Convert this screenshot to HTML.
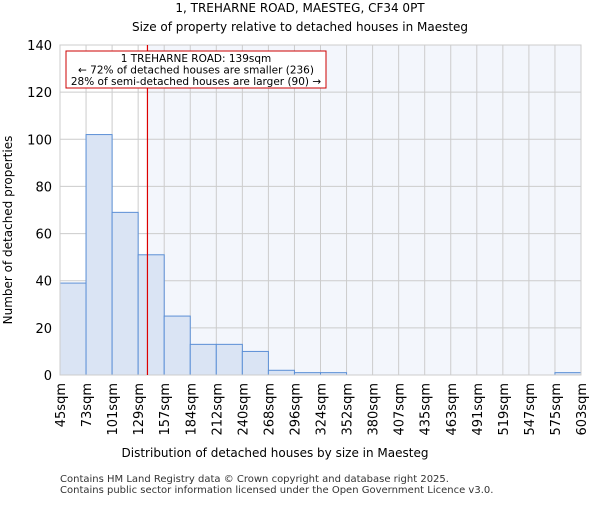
<!DOCTYPE html>
<html><head><meta charset="utf-8"><style>
body{margin:0;background:#fff;font-family:"Liberation Sans","DejaVu Sans",sans-serif}
svg text{font-family:"DejaVu Sans","Liberation Sans",sans-serif}
</style></head><body>
<svg id="c" width="600" height="500" xmlns="http://www.w3.org/2000/svg">
<text x="300" y="12" text-anchor="middle" font-size="12">1, TREHARNE ROAD, MAESTEG, CF34 0PT</text>
<text x="300" y="31" text-anchor="middle" font-size="12">Size of property relative to detached houses in Maesteg</text>
<g id="plot"></g>
<text x="275" y="457" text-anchor="middle" font-size="12">Distribution of detached houses by size in Maesteg</text>
<text transform="translate(12,230) rotate(-90)" text-anchor="middle" font-size="12">Number of detached properties</text>
<text x="60" y="482" font-size="10" fill="#333">Contains HM Land Registry data © Crown copyright and database right 2025.</text>
<text x="60" y="493" font-size="10" fill="#333">Contains public sector information licensed under the Open Government Licence v3.0.</text>
</svg>
<script>
const labels=["45sqm","73sqm","101sqm","129sqm","157sqm","184sqm","212sqm","240sqm","268sqm","296sqm","324sqm","352sqm","380sqm","407sqm","435sqm","463sqm","491sqm","519sqm","547sqm","575sqm","603sqm"];
const edges=[45,73,101,129,157,184,212,240,268,296,324,352,380,407,435,463,491,519,547,575,603];
const counts=[39,102,69,51,25,13,13,10,2,1,1,0,0,0,0,0,0,0,0,1];
const yTicks=[0,20,40,60,80,100,120,140];
const marker=139;
const NS="http://www.w3.org/2000/svg";
const L=60,R=581,T=45,B=375,YMAX=140;
const xi=i=>L+(R-L)*i/(edges.length-1);
const xv=v=>{for(let i=0;i<edges.length-1;i++){if(v<=edges[i+1])return xi(i)+(v-edges[i])/(edges[i+1]-edges[i])*(xi(i+1)-xi(i));}return R;};
const y=v=>B-(B-T)*v/YMAX;
const g=document.getElementById('plot');
function mk(t,a){const e=document.createElementNS(NS,t);for(const k in a)e.setAttribute(k,a[k]);g.appendChild(e);return e;}
let e;
const mx=xv(marker);
e=mk('rect',{x:mx,y:T,width:R-mx,height:B-T,fill:'#f3f6fc'});


yTicks.forEach(t=>{e=mk('line',{x1:L,x2:R,y1:y(t),y2:y(t),stroke:'#cccccc'});


e=mk('text',{x:L-8,y:y(t)+5,'text-anchor':'end','font-size':'13'});e.textContent=t;

});
edges.forEach((v,i)=>{e=mk('line',{x1:xi(i),x2:xi(i),y1:T,y2:B,stroke:'#cccccc'});


e=mk('text',{transform:`translate(${xi(i)+5},${B+8}) rotate(-90)`,'text-anchor':'end','font-size':'13'});e.textContent=labels[i];

});
counts.forEach((c,i)=>{e=mk('rect',{x:xi(i),y:y(c),width:xi(i+1)-xi(i),height:B-y(c),fill:'#dae4f4',stroke:'#5b8fd6','stroke-width':1});

});
e=mk('rect',{x:L,y:T,width:R-L,height:B-T,fill:'none',stroke:'#cccccc'});


e=mk('line',{x1:mx,x2:mx,y1:T,y2:B,stroke:'#dd0000','stroke-width':1.2});


e=mk('rect',{x:66,y:51,width:260,height:37,fill:'#fff',stroke:'#cc0000'});


["1 TREHARNE ROAD: 139sqm","← 72% of detached houses are smaller (236)","28% of semi-detached houses are larger (90) →"].forEach((s,k)=>{
e=mk('text',{x:196,y:62+k*11.5,'text-anchor':'middle','font-size':'10.5'});e.textContent=s;

});
</script>
</body></html>
